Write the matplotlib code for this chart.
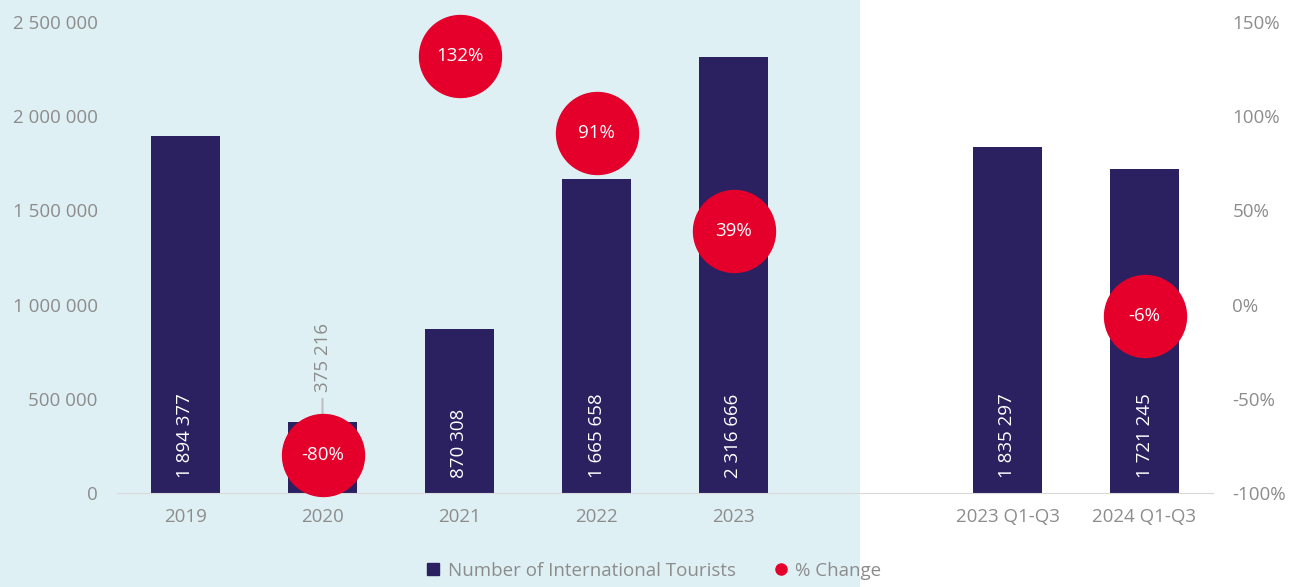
import matplotlib.pyplot as plt
from matplotlib.patches import Rectangle
from matplotlib.lines import Line2D
import numpy as np

plt.rcParams['font.family'] = ['Open Sans', 'DejaVu Sans']

# data
categories = ["2019", "2020", "2021", "2022", "2023", "", "2023 Q1-Q3", "2024 Q1-Q3"]
tourists = [1894377, 375216, 870308, 1665658, 2316666, np.nan, 1835297, 1721245]
tourist_labels = ["1 894 377", "375 216", "870 308", "1 665 658", "2 316 666", "", "1 835 297", "1 721 245"]
pct_change = [np.nan, -80, 132, 91, 39, np.nan, np.nan, -6]
pct_labels = ["", "-80%", "132%", "91%", "39%", "", "", "-6%"]

navy = "#2B2160"
red = "#E4002B"
grey = "#8C8C8C"
bg = "#DFF0F5"
fs = 13.5

fig = plt.figure(figsize=(12.97, 5.87), dpi=100)
fig.patches.append(Rectangle((0, 0), 860 / 1297, 1, transform=fig.transFigure,
                             facecolor=bg, edgecolor="none", zorder=-10))

ax = fig.add_axes([117 / 1297, 1 - 493 / 587, (1213 - 117) / 1297, (493 - 22) / 587])
ax.set_facecolor("none")
x = np.arange(len(categories))
bars = ax.bar(x, tourists, width=0.51, color=navy, zorder=2)

ax.set_xlim(-0.5, len(categories) - 0.5)
ax.set_ylim(0, 2500000)
ax.set_yticks(np.arange(0, 2500001, 500000))
ax.set_yticklabels([f"{int(v):,}".replace(",", " ") for v in ax.get_yticks()])
ax.set_xticks(x)
ax.set_xticklabels(categories)
ax.tick_params(axis="both", length=0, labelsize=fs, labelcolor=grey)
ax.tick_params(axis="y", pad=14)
ax.tick_params(axis="x", pad=11)
for s in ["top", "right", "left"]:
    ax.spines[s].set_visible(False)
ax.spines["bottom"].set_color("#D9D9D9")

# bar value labels
for i, (v, lab) in enumerate(zip(tourists, tourist_labels)):
    if not lab:
        continue
    if i == 1:
        # small bar: label above with leader line
        ax.annotate("", xy=(i, v), xytext=(0, 17), textcoords="offset points",
                    arrowprops=dict(arrowstyle="-", color="#BFBFBF", lw=1.5,
                                    shrinkA=0, shrinkB=1.5))
        ax.annotate(lab, xy=(i, v), xytext=(0, 22), textcoords="offset points",
                    rotation=90, ha="center", va="bottom", fontsize=fs, color=grey)
    else:
        ax.annotate(lab, xy=(i, 0), xytext=(0, 11), textcoords="offset points",
                    rotation=90, ha="center", va="bottom", fontsize=fs, color="white",
                    zorder=3)

# percent change on secondary axis
ax2 = ax.twinx()
ax2.set_ylim(-100, 150)
ax2.set_yticks(np.arange(-100, 151, 50))
ax2.set_yticklabels([f"{int(v)}%" for v in ax2.get_yticks()])
ax2.tick_params(axis="y", length=0, labelsize=fs, labelcolor=grey, pad=14)
for s in ax2.spines.values():
    s.set_visible(False)
ax2.plot(x, pct_change, linestyle="none", marker="o", markersize=59,
         color=red, zorder=4, clip_on=False)
for i, (p, lab) in enumerate(zip(pct_change, pct_labels)):
    if lab:
        ax2.text(i, p, lab, ha="center", va="center", color="white", fontsize=fs, zorder=5)

# legend
handles = [
    Line2D([], [], linestyle="none", marker="s", markersize=8, color=navy),
    Line2D([], [], linestyle="none", marker="o", markersize=8, color=red),
]
leg = fig.legend(handles, ["Number of International Tourists", "% Change"],
                 loc="center", bbox_to_anchor=(0.503, 1 - 571 / 587), ncol=2,
                 frameon=False, fontsize=fs, handletextpad=0.25, columnspacing=1.9,
                 handlelength=1.0)
for t in leg.get_texts():
    t.set_color(grey)

fig.savefig("out.png", dpi=100)
